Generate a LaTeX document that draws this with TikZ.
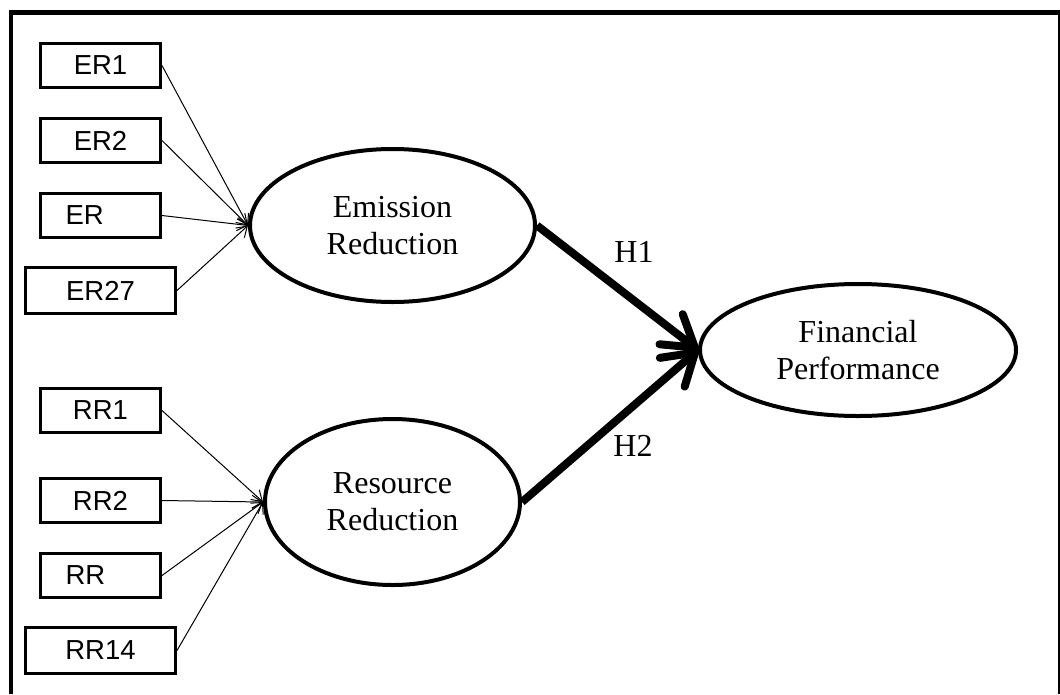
\documentclass[tikz,border=0pt]{standalone}
\usepackage{fontspec}
\setmainfont{Liberation Serif}
\setsansfont{Liberation Sans}
\usepackage{tikz}
\usetikzlibrary{
    shapes,
    shapes.geometric,
    positioning,
    arrows.meta,
    calc
}
\tikzset{
  indicator/.style = {
      draw,
      rectangle,
      line width=3pt,
      minimum width=120pt,
      minimum height=44pt,
      font=\sffamily\fontsize{27.5}{31}\selectfont,
      align=center
  },
  wide/.style = {
      indicator,
      minimum width=150pt,
      minimum height=46pt
  },
  short/.style = {
      indicator,
      text width=70pt,
      align=left
  },
  construct/.style = {
      draw,
      ellipse,
      line width=4pt,
      inner sep=0pt,
      align=center,
      font=\fontsize{32}{37}\selectfont
  },
  hyp/.style = {
      font=\fontsize{32}{37}\selectfont
  },
  load/.style = {
      line width=1pt,
      -{Straight Barb[length=10pt,width=13pt]}
  },
  path/.style = {
      line width=8pt,
      -{Straight Barb[length=30pt,width=38pt,round]}
  }
}

\begin{document}
\begin{tikzpicture}[x=1pt, y=-1pt, node distance=75pt]
    \useasboundingbox (0,0) rectangle (1060,694);
    % Frame
    \draw[line width=4pt] (11,694) -- (11,12.5);
    \draw[line width=5pt] (9,12.5) -- (1060,12.5);
    \draw[line width=2pt] (1058.5,12.5) -- (1058.5,694);
    % Constructs
    \node[construct, minimum width=285pt, minimum height=153pt] (ER) at (392.5,225.5) {Emission\\Reduction};
    \node[construct, minimum width=255pt, minimum height=166pt] (RR) at (392.5,502) {Resource\\Reduction};
    \node[construct, minimum width=316pt, minimum height=132pt] (FP) at (858,350) {Financial\\Performance};
    % Indicators
    \node[indicator] (er1) at (100.5,65.5) {ER1};
    \node[indicator, below of=er1] (er2) {ER2};
    \node[short, below of=er2] (er3) {ER};
    \node[wide, below of=er3] (er27) {ER27};
    \node[indicator] (rr1) at (100.5,410.5) {RR1};
    \node[indicator, below of=rr1, node distance=90pt] (rr2) {RR2};
    \node[short, below of=rr2] (rr3) {RR};
    \node[wide, below of=rr3] (rr14) {RR14};
    % Loadings
    \foreach \i in {er1,er2,er3,er27}
        \draw[load] (\i.east) -- (ER.west);
    \foreach \i in {rr1,rr2,rr3,rr14}
        \draw[load] (\i.east) -- (RR.west);
    % Hypotheses
    \draw[path] (ER.east) -- (FP.west);
    \draw[path] (RR.east) -- (FP.west);
    \node[hyp] (h1) at (634,252) {H1};
    \node[hyp] (h2) at (633,446) {H2};
\end{tikzpicture}
\end{document}
